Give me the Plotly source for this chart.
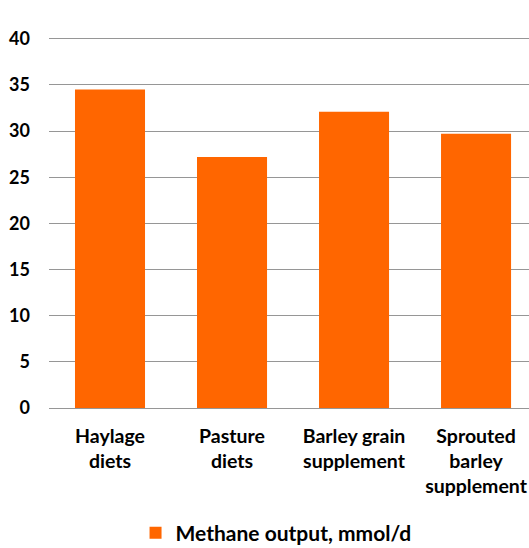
import plotly.graph_objects as go

categories = ["Haylage diets", "Pasture diets", "Barley grain supplement", "Sprouted barley supplement"]
tick_lines = [["Haylage", "diets"], ["Pasture", "diets"], ["Barley grain", "supplement"], ["Sprouted", "barley", "supplement"]]
values = [34.5, 27.2, 32.1, 29.7]
series_name = "Methane output, mmol/d"
y_ticks = [0, 5, 10, 15, 20, 25, 30, 35, 40]

FONT = "Lato"
ORANGE = "#FF6600"
GRID = "#969696"

ticktext = ["<br>".join(lines) for lines in tick_lines]

fig = go.Figure()
fig.add_trace(go.Bar(
    x=categories, y=values, name=series_name,
    marker=dict(color=ORANGE, line=dict(width=0)),
    showlegend=True,
))

fig.update_layout(
    width=529, height=548,
    margin=dict(l=49, r=0, t=36, b=140, autoexpand=False),
    paper_bgcolor="white", plot_bgcolor="white",
    font=dict(family=FONT, color="#000000"),
    bargap=0.426,
    showlegend=True,
    legend=dict(orientation="h", x=0.473, xanchor="center",
                yref="container", y=0.027, yanchor="middle",
                font=dict(family=FONT, size=21, color="#000000", weight="bold"),
                itemwidth=30),
    xaxis=dict(
        range=[-0.5, 3.434], tickmode="array", tickvals=categories, ticktext=ticktext,
        tickfont=dict(family=FONT, size=19.5, color="#000000", weight="bold"),
        showgrid=False, showline=False, ticks="", zeroline=False,
        ticklabelstandoff=14, automargin=False,
    ),
    yaxis=dict(
        range=[0, 40.3], tickmode="array", tickvals=y_ticks,
        tickfont=dict(family=FONT, size=18, color="#000000", weight="bold"),
        showgrid=True, gridcolor=GRID, gridwidth=1,
        zeroline=True, zerolinecolor=GRID, zerolinewidth=1,
        showline=False, ticks="", ticklabelstandoff=18, automargin=False,
    ),
)

fig.write_html("out.html", config={"displayModeBar": False},
               post_script="document.body.style.margin='0';document.body.style.overflow='hidden';")
